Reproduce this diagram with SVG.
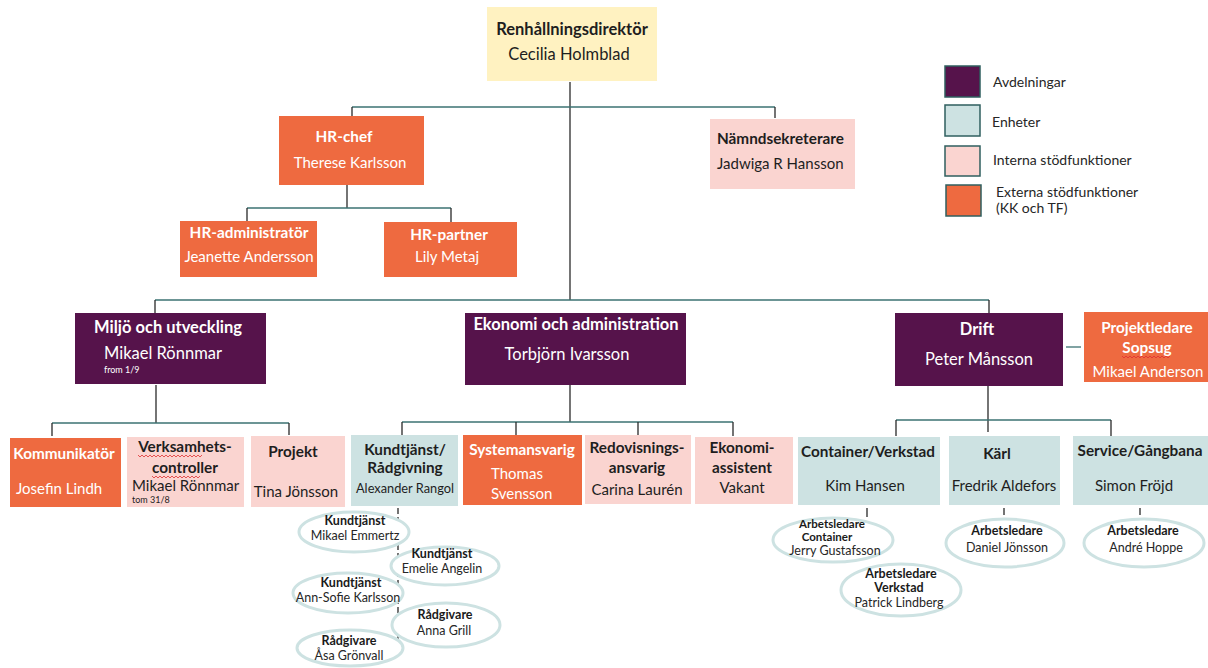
<svg xmlns="http://www.w3.org/2000/svg" width="1208" height="668" viewBox="0 0 1208 668">
<style>
text{font-family:Lato,"Liberation Sans",sans-serif;}
.B{font-weight:bold;font-size:16.5px;}
.N{font-size:16.5px;}
.b{font-weight:bold;font-size:15.3px;}
.n{font-size:15px;}
.s{font-size:9px;}
.eb{font-weight:bold;font-size:12.5px;fill:#1a1a1a;}
.en{font-size:12.5px;fill:#262626;}
.w{fill:#ffffff;}
.d{fill:#1e1e1e;}
.c{text-anchor:middle;}
.yel{fill:#fff2c1;}
.ora{fill:#ee6a40;}
.pur{fill:#56134b;}
.blu{fill:#cde2e2;}
.pin{fill:#fad4d0;}
.ell{fill:#ffffff;stroke:#cde2e2;stroke-width:3;}
.hl{stroke:#3b7272;stroke-width:1.3;fill:none;}
.vl{stroke:#2a2a2a;stroke-width:1.3;fill:none;}
.lg{stroke:#2f5f5f;stroke-width:1.5;}
.sq{stroke:#e03030;stroke-width:0.8;fill:none;}
.lt{font-size:14px;fill:#262626;}
</style>
<g id="connectors">
<path class="vl" d="M570 82V300"/>
<path class="hl" d="M352 107H775"/>
<path class="vl" d="M352 107V116M775 107V118"/>
<path class="vl" d="M347 185V208"/>
<path class="hl" d="M247 208H451"/>
<path class="vl" d="M247 208V221M451 208V222"/>
<path class="hl" d="M155 300H989"/>
<path class="vl" d="M155 300V313M989 300V313"/>
<path class="vl" d="M156 385V423"/>
<path class="hl" d="M52 423H289"/>
<path class="vl" d="M52 423V436M289 423V435"/>
<path class="vl" d="M570 385V422"/>
<path class="hl" d="M402 422H733"/>
<path class="vl" d="M402 422V435M516 422V435M638 422V435M733 422V436"/>
<path class="vl" d="M988 386V432"/>
<path class="hl" d="M896 420H1111"/>
<path class="vl" d="M896 420V436M1111 420V436"/>
<path class="hl" d="M1066 347H1081"/>
<path class="vl" d="M398 508V640" stroke-dasharray="6 3"/>
<path class="vl" d="M867 508V517M1004 508V515M1140 508V515"/>
</g>
<g id="n-direktor"><rect class="yel" x="487" y="7" width="170" height="74"/><text class="B d c" x="572" y="35">Renhållningsdirektör</text><text class="N d c" x="569" y="60">Cecilia Holmblad</text></g>
<g id="n-hrchef"><rect class="ora" x="279" y="116" width="145" height="69"/><text class="b w c" x="344" y="142">HR-chef</text><text class="n w c" x="350" y="168">Therese Karlsson</text></g>
<g id="n-hradmin"><rect class="ora" x="180" y="221" width="137" height="56"/><text class="b w c" x="249" y="238">HR-administratör</text><text class="n w c" x="249" y="262">Jeanette Andersson</text></g>
<g id="n-hrpartner"><rect class="ora" x="384" y="222" width="133" height="55"/><text class="b w c" x="449" y="240">HR-partner</text><text class="n w c" x="447" y="262">Lily Metaj</text></g>
<g id="n-namnd"><rect class="pin" x="710" y="119" width="145" height="70"/><text class="b d" x="717" y="144">Nämndsekreterare</text><text class="n d" x="717" y="169">Jadwiga R Hansson</text></g>
<g id="n-miljo"><rect class="pur" x="75" y="313" width="191" height="71"/><text class="B w c" x="168" y="333">Miljö och utveckling</text><text class="N w" x="104" y="359">Mikael Rönnmar</text><text class="s w" x="104" y="373">from 1/9</text></g>
<g id="n-ekonomi"><rect class="pur" x="465" y="313" width="221" height="72"/><text class="B w c" x="576" y="330">Ekonomi och administration</text><text class="N w c" x="567" y="360">Torbjörn Ivarsson</text></g>
<g id="n-drift"><rect class="pur" x="895" y="313" width="168" height="73"/><text class="B w c" x="977" y="335">Drift</text><text class="N w c" x="979" y="365">Peter Månsson</text></g>
<g id="n-sopsug"><rect class="ora" x="1084" y="312" width="124" height="70"/><text class="b w c" x="1147" y="333">Projektledare</text><text class="b w c" x="1147" y="353">Sopsug</text><path class="sq" d="M1122 356l2 2 2-2 2 2 2-2 2 2 2-2 2 2 2-2 2 2 2-2 2 2 2-2 2 2 2-2 2 2 2-2 2 2 2-2 2 2 2-2 2 2 2-2 2 2 2-2"/><text class="n w c" x="1148" y="377">Mikael Anderson</text></g>
<g id="n-kommunikator"><rect class="ora" x="10" y="438" width="111" height="69"/><text class="b w c" x="64" y="459">Kommunikatör</text><text class="n w" x="16" y="494">Josefin Lindh</text></g>
<g id="n-verksamhet"><rect class="pin" x="127" y="437" width="117" height="70"/><text class="b d c" x="185" y="452">Verksamhets-</text><path class="sq" d="M138 455l2 2 2-2 2 2 2-2 2 2 2-2 2 2 2-2 2 2 2-2 2 2 2-2 2 2 2-2 2 2 2-2 2 2 2-2 2 2 2-2 2 2 2-2 2 2 2-2 2 2 2-2 2 2 2-2 2 2 2-2 2 2 2-2"/><text class="b d c" x="185" y="473">controller</text><path class="sq" d="M152 476l2 2 2-2 2 2 2-2 2 2 2-2 2 2 2-2 2 2 2-2 2 2 2-2 2 2 2-2 2 2 2-2 2 2 2-2 2 2 2-2 2 2 2-2 2 2 2-2"/><text class="n d" x="132" y="491">Mikael Rönnmar</text><text class="s d" x="132" y="503">tom 31/8</text></g>
<g id="n-projekt"><rect class="pin" x="251" y="436" width="94" height="71"/><text class="b d c" x="293" y="457">Projekt</text><text class="n d c" x="296" y="497">Tina Jönsson</text></g>
<g id="n-kundtjanst"><rect class="blu" x="351" y="435" width="107" height="71"/><text class="b d c" x="405" y="455">Kundtjänst/</text><text class="b d c" x="405" y="473">Rådgivning</text><text class="d c" style="font-size:12.8px" x="405" y="493">Alexander Rangol</text></g>
<g id="n-system"><rect class="ora" x="463" y="435" width="119" height="70"/><text class="b w c" x="522" y="455">Systemansvarig</text><text class="n w" x="491" y="479">Thomas</text><text class="n w" x="491" y="499">Svensson</text></g>
<g id="n-redovisning"><rect class="pin" x="585" y="435" width="106" height="69"/><text class="b d c" x="637" y="453">Redovisnings-</text><text class="b d c" x="637" y="473">ansvarig</text><text class="n d c" x="637" y="495">Carina Laurén</text></g>
<g id="n-ekonomiassistent"><rect class="pin" x="695" y="437" width="98" height="67"/><text class="b d c" x="742" y="453">Ekonomi-</text><text class="b d c" x="742" y="473">assistent</text><text class="n d c" x="742" y="493">Vakant</text></g>
<g id="n-container"><rect class="blu" x="798" y="437" width="142" height="68"/><text class="b d c" x="868" y="457">Container/Verkstad</text><text class="n d c" x="865" y="491">Kim Hansen</text></g>
<g id="n-karl"><rect class="blu" x="949" y="436" width="111" height="69"/><text class="b d c" x="997" y="459">Kärl</text><text class="n d c" x="1004" y="491">Fredrik Aldefors</text></g>
<g id="n-service"><rect class="blu" x="1073" y="436" width="135" height="69"/><text class="b d c" x="1140" y="456">Service/Gångbana</text><text class="n d c" x="1134" y="491">Simon Fröjd</text></g>
<g id="e-emmertz"><ellipse class="ell" cx="354" cy="532" rx="55" ry="20"/><text class="eb c" x="355" y="525">Kundtjänst</text><text class="en c" x="355" y="540">Mikael Emmertz</text></g>
<g id="e-angelin"><ellipse class="ell" cx="445" cy="566" rx="54" ry="19"/><text class="eb c" x="442" y="558">Kundtjänst</text><text class="en c" x="442" y="573">Emelie Angelin</text></g>
<g id="e-karlsson"><ellipse class="ell" cx="348" cy="593" rx="55" ry="20"/><text class="eb c" x="351" y="587">Kundtjänst</text><text class="en c" x="348" y="602">Ann-Sofie Karlsson</text></g>
<g id="e-grill"><ellipse class="ell" cx="446" cy="625" rx="54" ry="22"/><text class="eb c" x="445" y="619">Rådgivare</text><text class="en c" x="444" y="635">Anna Grill</text></g>
<g id="e-gronvall"><ellipse class="ell" cx="350" cy="648" rx="53" ry="18"/><text class="eb c" x="349" y="645">Rådgivare</text><text class="en c" x="349" y="660">Åsa Grönvall</text></g>
<g id="e-gustafsson"><ellipse class="ell" cx="833" cy="540" rx="60" ry="22"/><text class="eb c" style="font-size:11.5px" x="832" y="528">Arbetsledare</text><text class="eb c" style="font-size:11.5px" x="827" y="541">Container</text><text class="en c" x="835" y="555">Jerry Gustafsson</text></g>
<g id="e-lindberg"><ellipse class="ell" cx="901" cy="590" rx="60" ry="26"/><text class="eb c" x="901" y="578">Arbetsledare</text><text class="eb c" x="899" y="592">Verkstad</text><text class="en c" x="899" y="607">Patrick Lindberg</text></g>
<g id="e-jonsson"><ellipse class="ell" cx="1005" cy="543" rx="59" ry="24"/><text class="eb c" x="1007" y="535">Arbetsledare</text><text class="en c" x="1007" y="552">Daniel Jönsson</text></g>
<g id="e-hoppe"><ellipse class="ell" cx="1144" cy="543" rx="60" ry="24"/><text class="eb c" x="1143" y="535">Arbetsledare</text><text class="en c" x="1146" y="552">André Hoppe</text></g>
<g id="legend">
<rect class="pur lg" x="945" y="66" width="35" height="31"/><text class="lt" x="993" y="87">Avdelningar</text>
<rect class="blu lg" x="945" y="105" width="35" height="31"/><text class="lt" x="992" y="127">Enheter</text>
<rect class="pin lg" x="945" y="146" width="35" height="30"/><text class="lt" x="993" y="165">Interna stödfunktioner</text>
<rect class="ora lg" x="946" y="185" width="35" height="31"/><text class="lt" x="996" y="197">Externa stödfunktioner</text><text class="lt" x="996" y="213">(KK och TF)</text>
</g>
</svg>
